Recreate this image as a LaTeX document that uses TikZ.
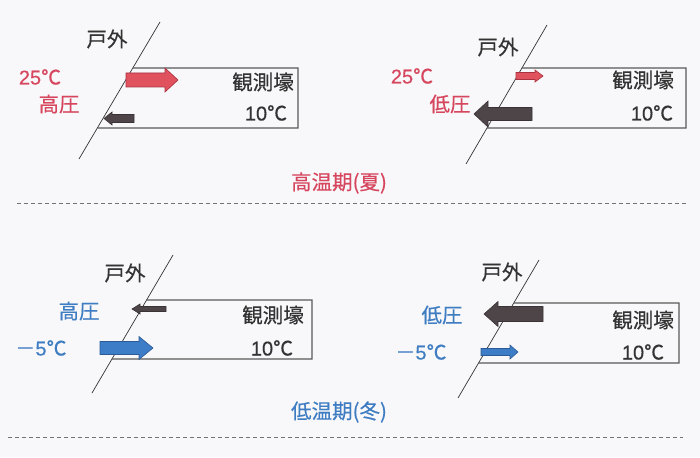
\documentclass[tikz,border=0pt]{standalone}
\usepackage{fontspec}
\setmainfont[FakeBold=0.3]{Liberation Sans}
\newfontfamily\jp[FakeBold=0.4]{Noto Sans CJK JP}
\definecolor{bg}{HTML}{F8F8FA}
\definecolor{redtxt}{HTML}{D6465E}
\definecolor{bluetxt}{HTML}{3F7DC2}
\definecolor{redfill}{HTML}{E0535E}
\definecolor{redline}{HTML}{A8323F}
\definecolor{darkfill}{HTML}{4D4548}
\definecolor{darkline}{HTML}{3A3335}
\definecolor{bluefill}{HTML}{3D7CC6}
\definecolor{blueline}{HTML}{2B5A95}
\definecolor{inktxt}{HTML}{333333}
\newcommand\myfatarrow[8]{% fill, draw, tail x, tip x, y, shaft half, head half, head length
  \pgfmathsetmacro\hx{#4-sign(#4-#3)*#8}
  \filldraw[fill=#1,draw=#2,line width=0.6pt,line join=miter]
    (#3,#5-#6) -- (\hx,#5-#6) -- (\hx,#5-#7) -- (#4,#5) -- (\hx,#5+#7) -- (\hx,#5+#6) -- (#3,#5+#6) -- cycle;
}
\tikzset{
  lbl/.style={inner sep=0pt, font=\fontsize{20}{22}\selectfont},
  jplbl/.style={inner sep=0pt, font=\jp\fontsize{20.5}{22}\selectfont},
  wall/.style={draw=inktxt, line width=0.7pt},
  room/.style={draw=black!65, line width=1.2pt},
  divider/.style={draw=black!55, line width=1pt, dash pattern=on 4pt off 3pt},
}
\begin{document}
\begin{tikzpicture}[x=1pt,y=-1pt]
\fill[bg] (0,0) rectangle (700,457);
\useasboundingbox (0,0) rectangle (700,457);

% ---------- Panel 1 ----------
\coordinate (w1a) at (160,22); \coordinate (w1b) at (79,159);
\draw[wall] (w1a) -- (w1b);
\coordinate (r1tl) at (intersection of w1a--w1b and 0,68--700,68);
\coordinate (r1bl) at (intersection of w1a--w1b and 0,128--700,128);
\coordinate (r1tr) at (298,68); \coordinate (r1br) at (298,128);
\draw[room] (r1tl) -- (r1tr) -- (r1br) -- (r1bl);
\myfatarrow{redfill}{redline}{126}{178}{80}{7}{12}{13}
\myfatarrow{darkfill}{darkline}{134}{104}{118.5}{4}{6.5}{8}
\node[jplbl, text=inktxt] (o1) at (107,39) {戸外};
\node[lbl, text=redtxt] (t1) at (40,77) {25{\jp ℃}};
\node[jplbl, text=redtxt] (p1) at (59,104) {高圧};
\node[jplbl, text=inktxt] (k1) at (263,82) {観測壕};
\node[lbl, text=inktxt] (c1) at (266,113) {10{\jp ℃}};

% ---------- Panel 2 ----------
\coordinate (w2a) at (547,25); \coordinate (w2b) at (466,164);
\draw[wall] (w2a) -- (w2b);
\coordinate (r2tl) at (intersection of w2a--w2b and 0,68--700,68);
\coordinate (r2bl) at (intersection of w2a--w2b and 0,128--700,128);
\coordinate (r2tr) at (686,68); \coordinate (r2br) at (686,128);
\draw[room] (r2tl) -- (r2tr) -- (r2br) -- (r2bl);
\myfatarrow{redfill}{redline}{516}{543}{76}{3.5}{6}{8}
\myfatarrow{darkfill}{darkline}{532}{474}{114}{6.5}{13}{14}
\node[jplbl, text=inktxt] (o2) at (498,47) {戸外};
\node[lbl, text=redtxt] (t2) at (412,76) {25{\jp ℃}};
\node[jplbl, text=redtxt] (p2) at (450,104) {低圧};
\node[jplbl, text=inktxt] (k2) at (643,80) {観測壕};
\node[lbl, text=inktxt] (c2) at (652,113) {10{\jp ℃}};

\node[jplbl, text=redtxt] (sum) at (339,183) {高温期(夏)};
\coordinate (d1a) at (17,203); \coordinate (d1b) at (688,203);
\draw[divider] (d1a) -- (d1b);

% ---------- Panel 3 ----------
\coordinate (w3a) at (173,255); \coordinate (w3b) at (92,393);
\draw[wall] (w3a) -- (w3b);
\coordinate (r3tl) at (intersection of w3a--w3b and 0,300--700,300);
\coordinate (r3bl) at (intersection of w3a--w3b and 0,359--700,359);
\coordinate (r3tr) at (312,300); \coordinate (r3br) at (312,359);
\draw[room] (r3tl) -- (r3tr) -- (r3br) -- (r3bl);
\myfatarrow{darkfill}{darkline}{166}{132}{309}{2.5}{5}{8}
\myfatarrow{bluefill}{blueline}{100}{153}{348}{6.5}{11.5}{14}
\node[jplbl, text=inktxt] (o3) at (125,273) {戸外};
\node[jplbl, text=bluetxt] (p3) at (79,311) {高圧};
\node[lbl, text=bluetxt] (t3) at (41,348) {{\jp －}5{\jp ℃}};
\node[jplbl, text=inktxt] (k3) at (273,315) {観測壕};
\node[lbl, text=inktxt] (c3) at (272,348) {10{\jp ℃}};

% ---------- Panel 4 ----------
\coordinate (w4a) at (539,260); \coordinate (w4b) at (458,398);
\draw[wall] (w4a) -- (w4b);
\coordinate (r4tl) at (intersection of w4a--w4b and 0,303--700,303);
\coordinate (r4bl) at (intersection of w4a--w4b and 0,363--700,363);
\coordinate (r4tr) at (679,303); \coordinate (r4br) at (679,363);
\draw[room] (r4tl) -- (r4tr) -- (r4br) -- (r4bl);
\myfatarrow{darkfill}{darkline}{543}{484}{314}{7.5}{12.5}{14}
\myfatarrow{bluefill}{blueline}{481}{518}{352}{3.5}{7}{8}
\node[jplbl, text=inktxt] (o4) at (502,272) {戸外};
\node[jplbl, text=bluetxt] (p4) at (442,315) {低圧};
\node[lbl, text=bluetxt] (t4) at (421,352) {{\jp －}5{\jp ℃}};
\node[jplbl, text=inktxt] (k4) at (643,320) {観測壕};
\node[lbl, text=inktxt] (c4) at (643,352) {10{\jp ℃}};

\node[jplbl, text=bluetxt] (win) at (339,412) {低温期(冬)};
\coordinate (d2a) at (8,437); \coordinate (d2b) at (683,437);
\draw[divider] (d2a) -- (d2b);
\end{tikzpicture}
\end{document}
